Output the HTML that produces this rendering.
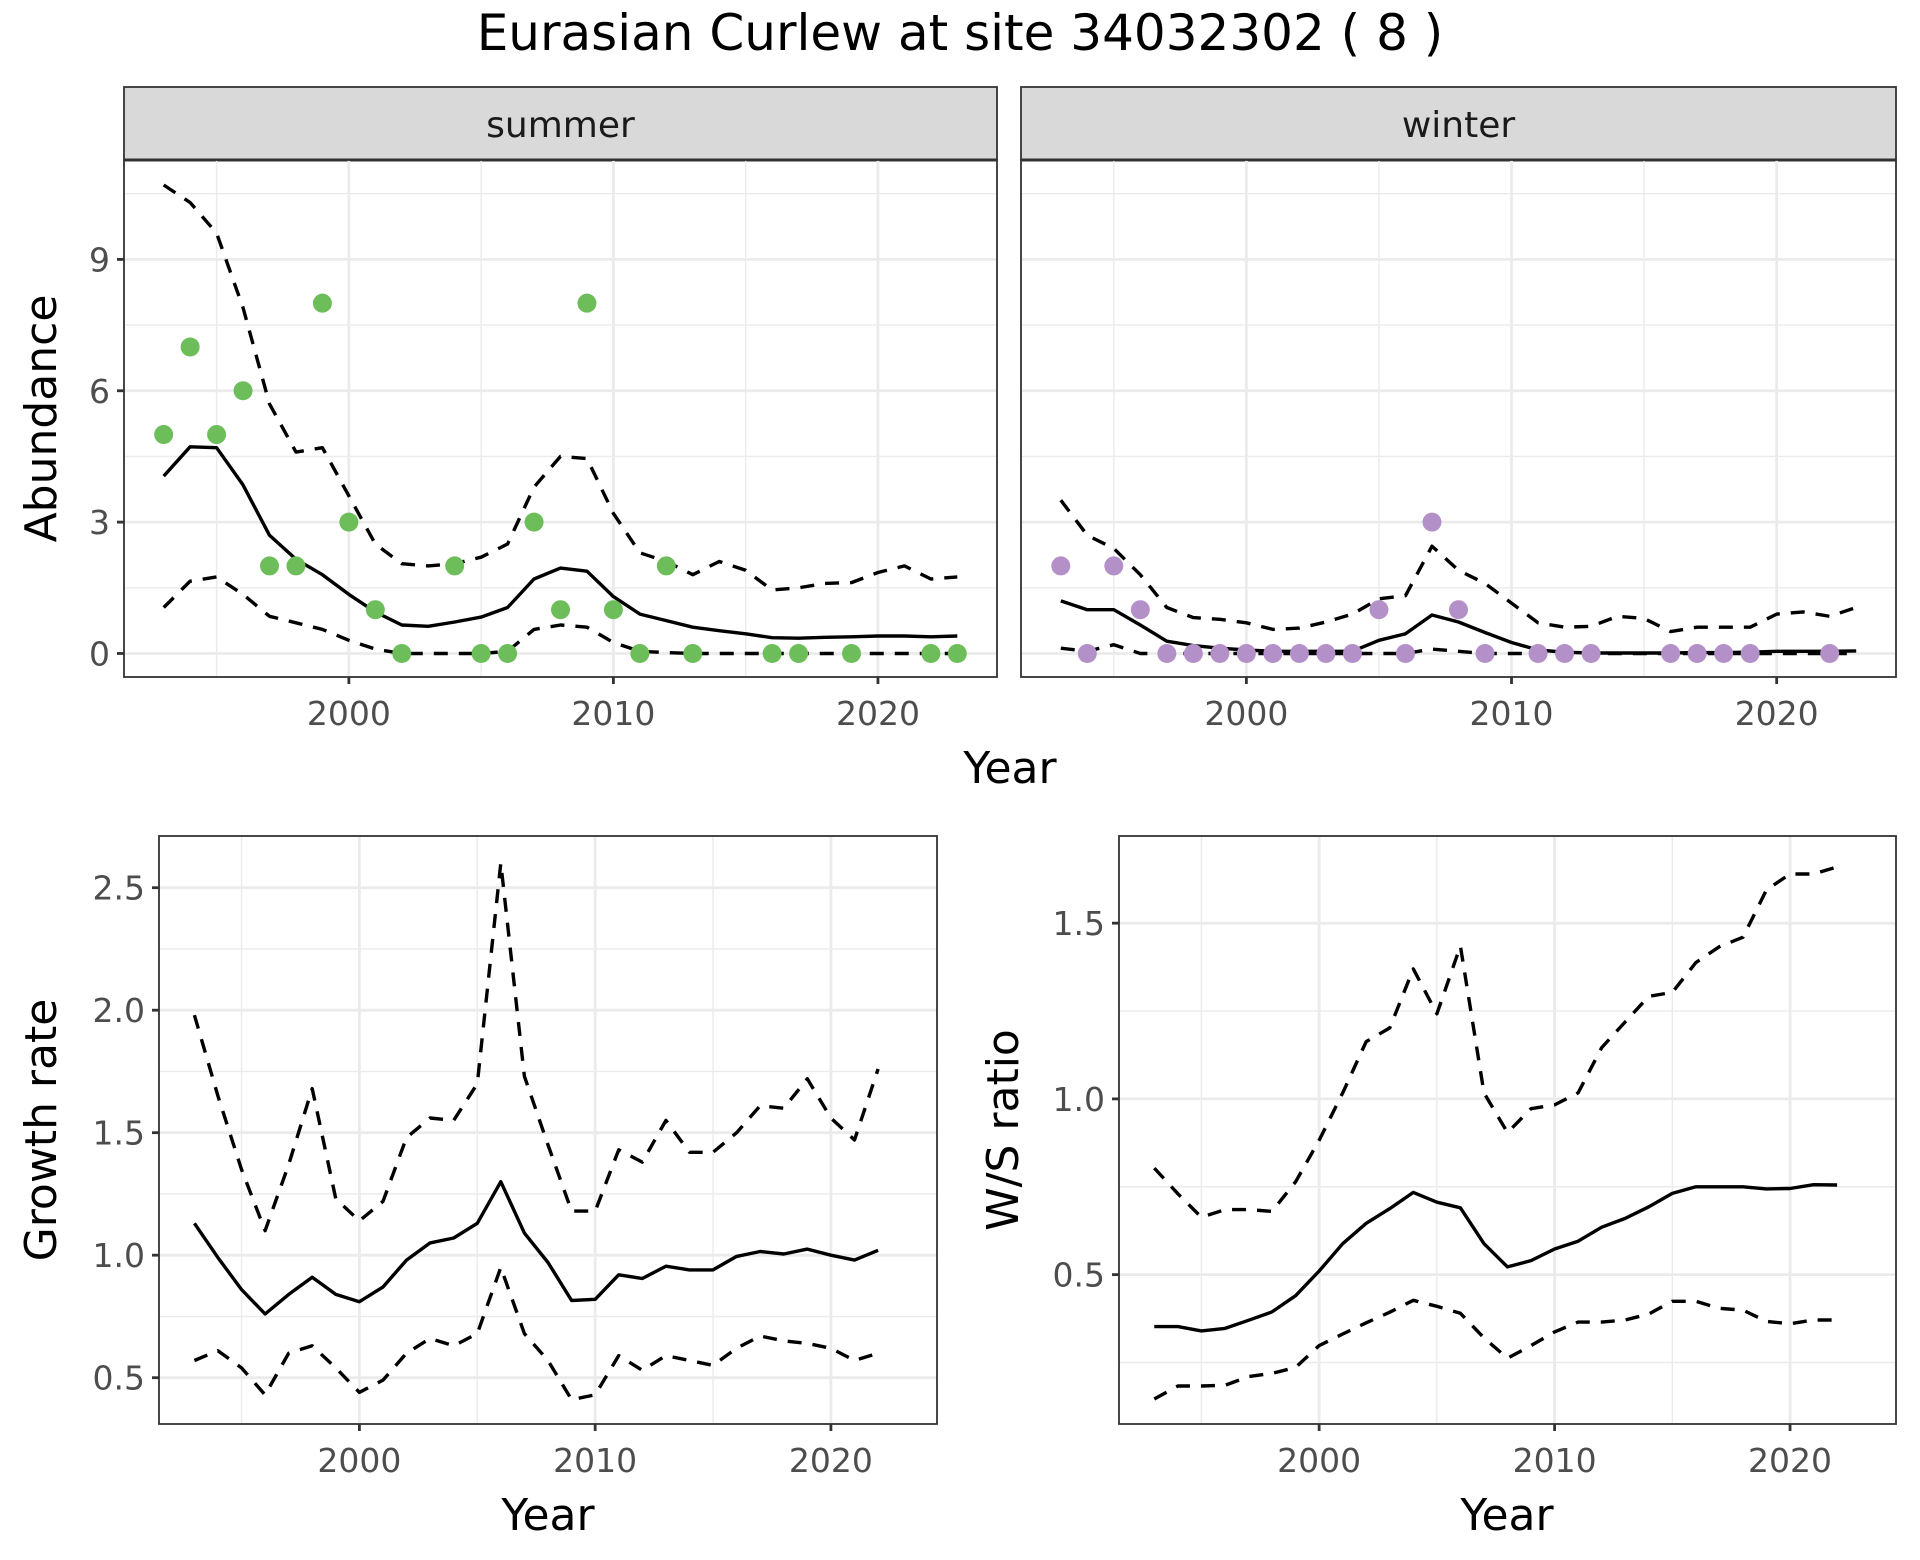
<!DOCTYPE html>
<html><head><meta charset="utf-8"><style>
html,body{margin:0;padding:0;background:#fff;}
svg{display:block;font-family:"DejaVu Sans","Liberation Sans",sans-serif;}
</style></head><body>
<svg id="chart" width="1920" height="1560" viewBox="0 0 1920 1560" xmlns="http://www.w3.org/2000/svg">
<text x="960" y="50" text-anchor="middle" font-size="50" fill="#000">Eurasian Curlew at site 34032302 ( 8 )</text>
</svg>
<script>
const years = [1993,1994,1995,1996,1997,1998,1999,2000,2001,2002,2003,2004,2005,2006,2007,2008,2009,2010,2011,2012,2013,2014,2015,2016,2017,2018,2019,2020,2021,2022,2023];
const summerPtYears = [1993,1994,1995,1996,1997,1998,1999,2000,2001,2002,2004,2005,2006,2007,2008,2009,2010,2011,2012,2013,2016,2017,2019,2022,2023];
const summerPtVals  = [5,7,5,6,2,2,8,3,1,0,2,0,0,3,1,8,1,0,2,0,0,0,0,0,0];
const summerMean = [4.05,4.72,4.7,3.85,2.7,2.15,1.8,1.35,0.95,0.65,0.62,0.72,0.83,1.05,1.7,1.95,1.88,1.3,0.9,0.75,0.6,0.52,0.45,0.36,0.35,0.37,0.38,0.4,0.4,0.38,0.4];
const summerUpper = [10.7,10.3,9.6,7.9,5.7,4.6,4.7,3.6,2.5,2.05,2.0,2.05,2.2,2.5,3.8,4.5,4.45,3.2,2.3,2.1,1.8,2.1,1.9,1.45,1.5,1.6,1.62,1.85,2.0,1.7,1.75];
const summerLower = [1.05,1.65,1.75,1.35,0.85,0.7,0.55,0.3,0.1,0,0,0,0,0.05,0.55,0.65,0.6,0.25,0.05,0.02,0,0,0,0,0,0,0,0,0,0,0];
const winterPtYears = [1993,1994,1995,1996,1997,1998,1999,2000,2001,2002,2003,2004,2005,2006,2007,2008,2009,2011,2012,2013,2016,2017,2018,2019,2022];
const winterPtVals  = [2,0,2,1,0,0,0,0,0,0,0,0,1,0,3,1,0,0,0,0,0,0,0,0,0];
const winterMean = [1.2,1.0,1.0,0.65,0.28,0.18,0.12,0.08,0.05,0.05,0.05,0.05,0.3,0.45,0.88,0.72,0.48,0.25,0.08,0.03,0.01,0.01,0.01,0.01,0.02,0.02,0.03,0.05,0.05,0.05,0.06];
const winterUpper = [3.5,2.7,2.4,1.8,1.05,0.82,0.78,0.7,0.55,0.58,0.72,0.9,1.25,1.32,2.45,1.9,1.6,1.15,0.7,0.6,0.62,0.85,0.8,0.5,0.6,0.6,0.6,0.9,0.95,0.85,1.05];
const winterLower = [0.12,0.05,0.2,0,0,0,0,0,0,0,0,0,0,0,0.1,0.05,0,0,0,0,0,0,0,0,0,0,0,0,0,0,0];
const grYears = [1993,1994,1995,1996,1997,1998,1999,2000,2001,2002,2003,2004,2005,2006,2007,2008,2009,2010,2011,2012,2013,2014,2015,2016,2017,2018,2019,2020,2021,2022];
const grMean = [1.13,0.99,0.86,0.76,0.84,0.91,0.84,0.81,0.87,0.98,1.05,1.07,1.13,1.30,1.09,0.97,0.815,0.82,0.92,0.905,0.955,0.94,0.94,0.995,1.015,1.005,1.025,1.0,0.98,1.02];
const grUpper = [1.98,1.65,1.35,1.1,1.37,1.68,1.23,1.14,1.22,1.48,1.56,1.55,1.7,2.6,1.73,1.45,1.18,1.18,1.43,1.38,1.55,1.42,1.42,1.5,1.61,1.6,1.72,1.56,1.47,1.76];
const grLower = [0.57,0.61,0.54,0.43,0.6,0.63,0.54,0.44,0.49,0.6,0.66,0.63,0.68,0.95,0.68,0.57,0.41,0.43,0.59,0.53,0.59,0.57,0.55,0.62,0.67,0.65,0.64,0.62,0.57,0.6];
const wsMean = [0.352,0.352,0.34,0.347,0.37,0.394,0.44,0.51,0.588,0.646,0.688,0.734,0.706,0.69,0.588,0.522,0.54,0.573,0.595,0.635,0.66,0.693,0.731,0.75,0.75,0.75,0.744,0.745,0.756,0.755];
const wsUpper = [0.803,0.73,0.663,0.685,0.685,0.68,0.764,0.882,1.017,1.163,1.202,1.37,1.242,1.435,1.017,0.904,0.972,0.983,1.017,1.146,1.219,1.292,1.303,1.388,1.433,1.46,1.595,1.64,1.64,1.66];
const wsLower = [0.146,0.183,0.183,0.185,0.21,0.219,0.236,0.298,0.331,0.363,0.393,0.427,0.41,0.39,0.32,0.262,0.298,0.337,0.365,0.365,0.371,0.388,0.424,0.424,0.404,0.399,0.367,0.36,0.371,0.371];
const xTicks = [2000,2010,2020];
const xMinor = [1995,2005,2015];
const abTicks = [0,3,6,9];
const abMinor = [1.5,4.5,7.5,10.5];
const grTicks = [0.5,1.0,1.5,2.0,2.5];
const grMinor = [0.75,1.25,1.75,2.25];
const wsTicks = [0.5,1.0,1.5];
const wsMinor = [0.25,0.75,1.25];

const svg = document.getElementById('chart');
const NS = 'http://www.w3.org/2000/svg';
function el(tag, attrs, parent){
  const e = document.createElementNS(NS, tag);
  for (const k in attrs) e.setAttribute(k, attrs[k]);
  (parent||svg).appendChild(e);
  return e;
}
function txt(s, attrs, parent){ const t = el('text', attrs, parent); t.textContent = s; return t; }

function panel(name, x0, x1, y0, y1, xd, yd, yT, yMin, showY, ytitle, ytOff){
  const g = el('g', {});
  
  
  const sx = v => x0 + (v - xd[0]) / (xd[1] - xd[0]) * (x1 - x0);
  const sy = v => y1 - (v - yd[0]) / (yd[1] - yd[0]) * (y1 - y0);
  xMinor.forEach(v => el('line', {x1:sx(v),x2:sx(v),y1:y0,y2:y1,stroke:'#ebebeb','stroke-width':1.4}, g));
  yMin.forEach(v => el('line', {x1:x0,x2:x1,y1:sy(v),y2:sy(v),stroke:'#ebebeb','stroke-width':1.4}, g));
  xTicks.forEach(v => el('line', {x1:sx(v),x2:sx(v),y1:y0,y2:y1,stroke:'#ebebeb','stroke-width':2.8}, g));
  yT.forEach(v => el('line', {x1:x0,x2:x1,y1:sy(v),y2:sy(v),stroke:'#ebebeb','stroke-width':2.8}, g));
  xTicks.forEach(v => {
    el('line', {x1:sx(v),x2:sx(v),y1:y1,y2:y1+7,stroke:'#333','stroke-width':2.8}, g);
    const t = txt(String(v), {x:sx(v), y:y1+48, 'text-anchor':'middle','font-size':33,fill:'#4d4d4d'}, g);
    
    
  });
  if (showY) yT.forEach(v => {
    el('line', {x1:x0-7,x2:x0,y1:sy(v),y2:sy(v),stroke:'#333','stroke-width':2.8}, g);
    const lab = (yd[1] < 5) ? v.toFixed(1) : String(v);
    const t = txt(lab, {x:x0-14, y:sy(v)+12, 'text-anchor':'end','font-size':33,fill:'#4d4d4d'}, g);
    
    
  });
  if (ytitle){
    const cy = (y0 + y1) / 2;
    const t = txt(ytitle, {x:0, y:0, transform:`translate(${x0 - ytOff},${cy}) rotate(-90)`, 'text-anchor':'middle','font-size':44,fill:'#000'}, g);
    
    
  }
  return {g, sx, sy, frame: () => el('rect', {x:x0,y:y0,width:x1-x0,height:y1-y0,fill:'none',stroke:'#333','stroke-width':1.8}, g)};
}
function line(p, xs, ys, dashed, name){
  const d = xs.map((x,i) => (i ? 'L' : 'M') + p.sx(x).toFixed(1) + ',' + p.sy(ys[i]).toFixed(1)).join('');
  const a = {d, fill:'none', stroke:'#000', 'stroke-width':3.4, 'stroke-linejoin':'round'};
  if (dashed) a['stroke-dasharray'] = '14,11';
  const e = el('path', a, p.g);
  
  
}
function points(p, xs, ys, col, name){
  xs.forEach((x,i) => {
    const c = el('circle', {cx:p.sx(x), cy:p.sy(ys[i]), r:9.5, fill:col}, p.g);
    
    
  });
}
function strip(x0, x1, label, name){
  const g = el('g', {});
  
  
  el('rect', {x:x0, y:87, width:x1-x0, height:73, fill:'#d9d9d9', stroke:'#333', 'stroke-width':1.8}, g);
  el('line', {x1:x0, x2:x1, y1:160, y2:160, stroke:'#333', 'stroke-width':3}, g);
  txt(label, {x:(x0+x1)/2, y:137, 'text-anchor':'middle', 'font-size':36, fill:'#1a1a1a'}, g);
}

const XD = [1991.5, 2024.5];
strip(124, 997, 'summer', 'strip-summer');
const ps = panel('panel-summer', 124, 997, 160, 677, XD, [-0.537, 11.27], abTicks, abMinor, true, 'Abundance', 68);
line(ps, years, summerUpper, true, 'summer-upper-ci');
line(ps, years, summerLower, true, 'summer-lower-ci');
line(ps, years, summerMean, false, 'summer-trend');
points(ps, summerPtYears, summerPtVals, '#6dbe5b', 'summer-count-point');
ps.frame();
strip(1021, 1896, 'winter', 'strip-winter');
const pw = panel('panel-winter', 1021, 1896, 160, 677, XD, [-0.537, 11.27], abTicks, abMinor, false, null, 0);
line(pw, years, winterUpper, true, 'winter-upper-ci');
line(pw, years, winterLower, true, 'winter-lower-ci');
line(pw, years, winterMean, false, 'winter-trend');
points(pw, winterPtYears, winterPtVals, '#b490c8', 'winter-count-point');
pw.frame();
let t = txt('Year', {x:1010, y:783, 'text-anchor':'middle', 'font-size':44, fill:'#000'});


const pg = panel('panel-growth-rate', 159, 937, 836, 1424, XD, [0.311, 2.711], grTicks, grMinor, true, 'Growth rate', 103);
line(pg, grYears, grUpper, true, 'growth-upper-ci');
line(pg, grYears, grLower, true, 'growth-lower-ci');
line(pg, grYears, grMean, false, 'growth-trend');
pg.frame();
t = txt('Year', {x:548, y:1530, 'text-anchor':'middle', 'font-size':44, fill:'#000'});


const pr = panel('panel-ws-ratio', 1119, 1896, 836, 1424, XD, [0.075, 1.748], wsTicks, wsMinor, true, 'W/S ratio', 101);
line(pr, grYears, wsUpper, true, 'ws-upper-ci');
line(pr, grYears, wsLower, true, 'ws-lower-ci');
line(pr, grYears, wsMean, false, 'ws-trend');
pr.frame();
t = txt('Year', {x:1507, y:1530, 'text-anchor':'middle', 'font-size':44, fill:'#000'});


</script>
</body></html>
